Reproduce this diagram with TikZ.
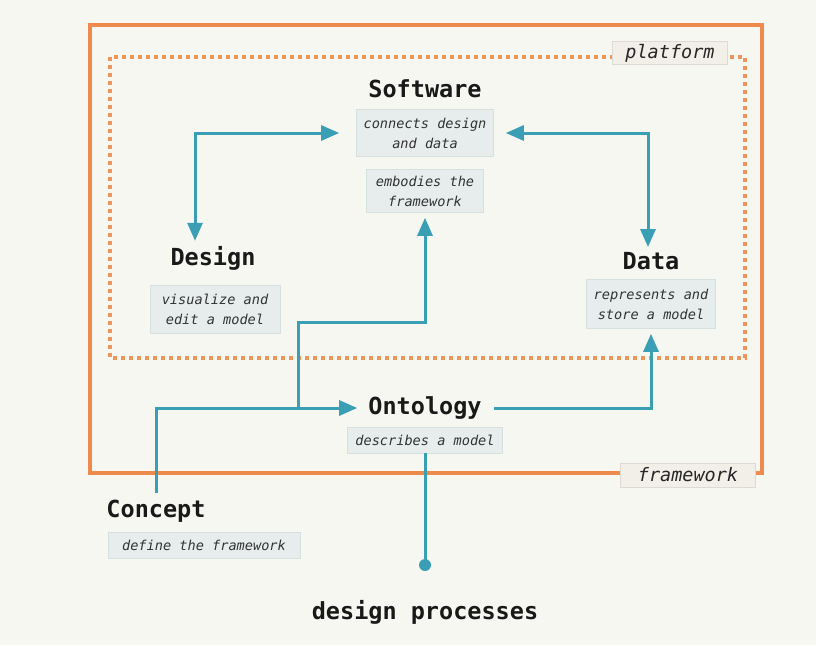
\documentclass[tikz,border=0pt]{standalone}
\usepackage{fontspec}
\setmonofont{DejaVu Sans Mono}
\usetikzlibrary{arrows.meta}
\definecolor{bg}{HTML}{F7F7F2}
\definecolor{teal1}{HTML}{3A9FB5}
\definecolor{orng}{HTML}{EE8A4C}
\definecolor{orngd}{HTML}{F0955A}
\definecolor{lblfill}{HTML}{E6EDEC}
\definecolor{lbldraw}{HTML}{D6E0DE}
\definecolor{tagfill}{HTML}{F2EEE8}
\definecolor{tagdraw}{HTML}{DEDAD3}
\tikzset{
  title/.style={inner sep=0pt, font=\ttfamily\bfseries\fontsize{23.5}{27}\selectfont, text=black!90},
  lbl/.style={fill=lblfill, draw=lbldraw, line width=0.6pt, align=center, inner sep=0pt,
    font=\ttfamily\itshape\fontsize{13.6}{20}\selectfont, text=black!80},
  tag/.style={fill=tagfill, draw=tagdraw, line width=0.6pt, inner sep=0pt,
    font=\ttfamily\itshape\fontsize{18.5}{22}\selectfont, text=black!85},
  conn/.style={draw=teal1, line width=3pt, arrows={-}, >={Triangle[length=18pt,width=15pt]}},
}
\begin{document}
\begin{tikzpicture}[x=1pt,y=-1pt]
\fill[bg] (0,0) rectangle (816,645);
% frames
\draw[orng, line width=4pt] (90,25) rectangle (762,473);
\draw[orngd, line width=4pt, dash pattern=on 4pt off 4pt] (110,57) rectangle (745,358);
\node[tag, minimum width=115pt, minimum height=23pt] (plat) at (670,53) {platform};
\node[tag, minimum width=135pt, minimum height=24pt] (fw) at (688,475) {framework};
% nodes
\node[title] (soft) at (425,89) {Software};
\node[lbl, minimum width=137pt, minimum height=47pt] (sw1) at (425,133) {connects design\\and data};
\node[lbl, minimum width=117pt, minimum height=43pt] (emb) at (425,191) {embodies the\\framework};
\node[title] (des) at (213,258) {Design};
\node[lbl, minimum width=130pt, minimum height=48pt] (des2) at (215,309) {visualize and\\edit a model};
\node[title] (dat) at (651,261) {Data};
\node[lbl, minimum width=129pt, minimum height=49pt] (dat2) at (651,304) {represents and\\store a model};
\node[title] (ont) at (425,408) {Ontology};
\node[lbl, minimum width=155pt, minimum height=26pt] (ont2) at (425,440) {describes a model};
\node[title] (con) at (156,511) {Concept};
\node[lbl, minimum width=192pt, minimum height=26pt] (con2) at (204,545) {define the framework};
\node[title] (dp) at (425,612) {design processes};
\node[circle, fill=teal1, inner sep=0pt, minimum size=12pt] (dot) at (425,565) {};
\coordinate (j) at (298,408);
\coordinate (bend) at (298,322);
% connectors
\draw[conn,<->] ([xshift=-17pt]sw1.west) -| ([xshift=-18pt,yshift=5pt]des.north);
\draw[conn,<->] ([xshift=12pt]sw1.east) -| ([xshift=-3pt,yshift=5pt]dat.north);
\draw[conn,->] ([yshift=7pt]con.north) |- ([xshift=-11pt]ont.west);
\draw[conn,->] (j) -- (bend) -| ([yshift=-5pt]emb.south);
\draw[conn,->] ([xshift=12pt]ont.east) -| ([yshift=-5pt]dat2.south);
\draw[conn] (ont2.south) -- (dot.center);
\end{tikzpicture}
\end{document}
